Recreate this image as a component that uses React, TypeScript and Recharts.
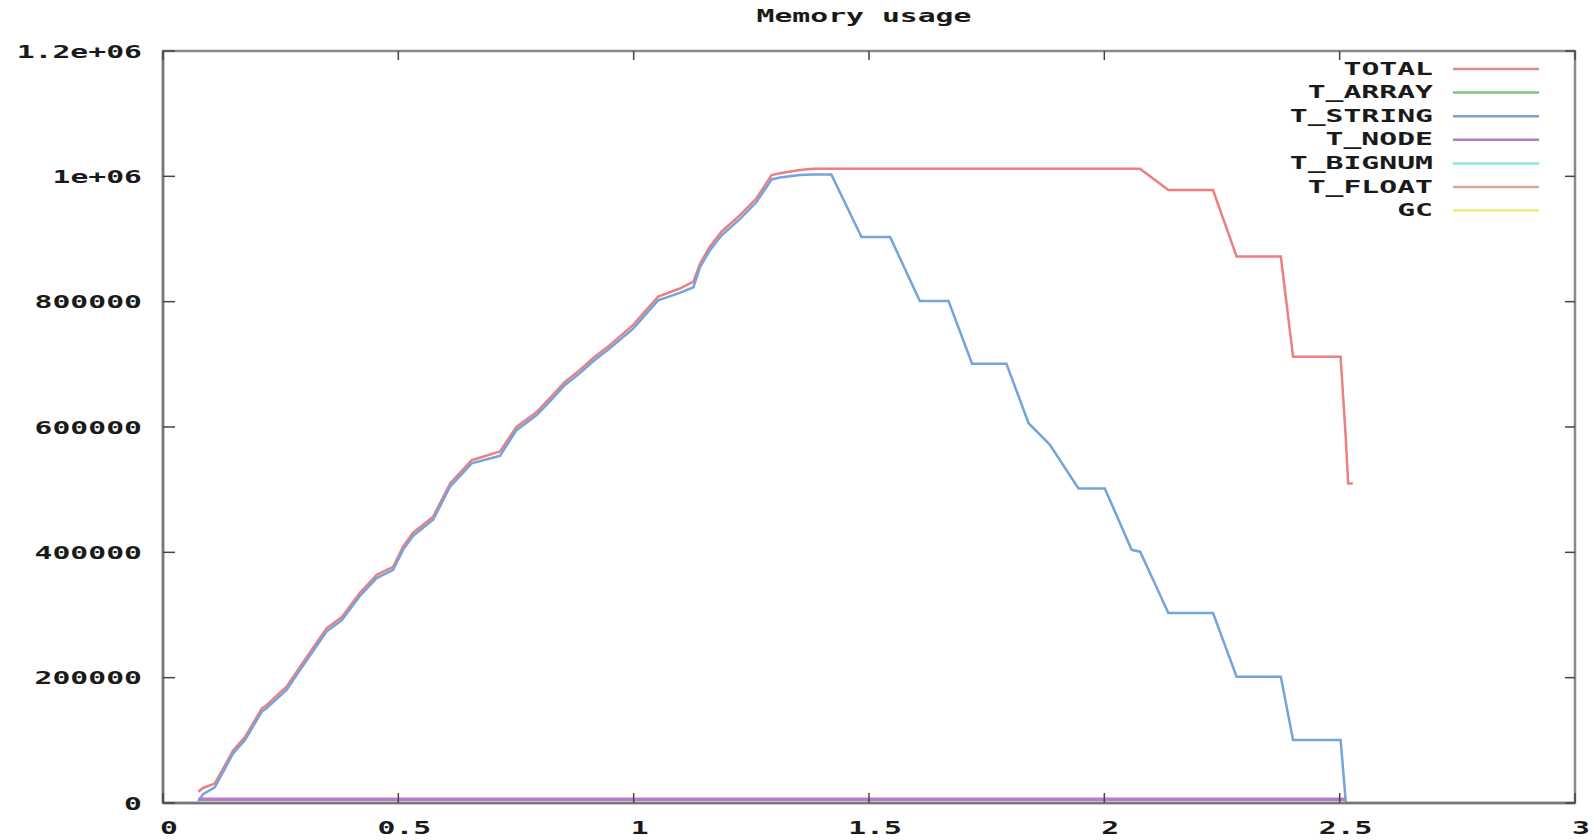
import React from "react";
import { LineChart, Line, XAxis, YAxis, Legend, ReferenceArea } from "recharts";

// ---- data ----
const xValues = [
  0.075, 0.085, 0.11, 0.149, 0.174, 0.21, 0.22, 0.263, 0.291, 0.323, 0.348, 0.38, 0.418, 0.454, 0.489,
  0.51, 0.531, 0.574, 0.61, 0.656, 0.716, 0.751, 0.794, 0.822, 0.854, 0.886, 0.914, 0.95, 0.999, 1.02,
  1.052, 1.098, 1.127, 1.141, 1.162, 1.187, 1.226, 1.261, 1.293, 1.311, 1.353, 1.381, 1.42, 1.484, 1.545,
  1.608, 1.669, 1.719, 1.792, 1.839, 1.884, 1.945, 2.001, 2.058, 2.076, 2.097, 2.136, 2.231, 2.281, 2.375,
  2.401, 2.502, 2.513, 2.518, 2.528,
];
const totalValues = [
  18000, 24000, 31000, 84000, 105000, 151000, 156000, 186000, 217000, 252000, 279000, 297000, 335000, 364000, 377000,
  409000, 431000, 457000, 510000, 547000, 561000, 600000, 624000, 646000, 672000, 691000, 710000, 731000, 763000, 781000,
  808000, 821000, 832000, 861000, 888000, 912000, 938000, 965000, 1002000, 1005000, 1010000, 1012000, 1012000, 1012000, 1012000,
  1012000, 1012000, 1012000, 1012000, 1012000, 1012000, 1012000, 1012000, 1012000, 1012000, 1000000, 978000, 978000, 872000, 872000,
  712000, 712000, 582000, 510000, 510000,
];
const stringValues = [
  3000, 14000, 25000, 79000, 100000, 146000, 151000, 181000, 212000, 247000, 274000, 292000, 330000, 359000, 372000,
  404000, 426000, 452000, 505000, 542000, 554000, 595000, 619000, 641000, 667000, 686000, 705000, 726000, 757000, 775000,
  802000, 814000, 823000, 855000, 882000, 906000, 932000, 959000, 995000, 998000, 1002000, 1003000, 1003000, 903000, 903000,
  801000, 801000, 701000, 701000, 606000, 572000, 502000, 502000, 404000, 401000, 367000, 303000, 303000, 201500, 201500,
  100500, 100500, 2000, null, null,
];
const nodeValues = xValues.map((x) => (x <= 2.513 ? 6000 : null));
const arrayValues = xValues.map((x) => (x <= 2.513 ? 5000 : null));
const bignumValues = xValues.map((x) => (x <= 2.513 ? 5000 : null));
const floatValues = xValues.map((x) => (x <= 2.513 ? 5000 : null));
const gcValues = xValues.map((x) => (x <= 2.513 ? 5000 : null));

const xTicks = [0, 0.5, 1, 1.5, 2, 2.5, 3];
const xTickLabels = ["0", "0.5", "1", "1.5", "2", "2.5", "3"];
const yTicks = [0, 200000, 400000, 600000, 800000, 1000000, 1200000];
const yTickLabels = ["0", "200000", "400000", "600000", "800000", "1e+06", "1.2e+06"];

const seriesNames = ["TOTAL", "T_ARRAY", "T_STRING", "T_NODE", "T_BIGNUM", "T_FLOAT", "GC"];
const legendColors = ["#e08a8a", "#7cc87c", "#7d9fd0", "#b47cc6", "#8ee2ea", "#d0a896", "#eeec80"];
const lineColors = ["#ec7f7f", "#7cc87c", "#74a4dc", "#b67cca", "#8ee2ea", "#d0a896", "#eeec80"];

const data = xValues.map((x, i) => ({
  x,
  TOTAL: totalValues[i],
  T_ARRAY: arrayValues[i],
  T_STRING: stringValues[i],
  T_NODE: nodeValues[i],
  T_BIGNUM: bignumValues[i],
  T_FLOAT: floatValues[i],
  GC: gcValues[i],
}));

// ---- layout ----
const W = 1594;
const H = 840;
const MARGIN = { top: 51, right: 19, bottom: 0, left: 0 };
const PLOT_LEFT = 163;
const PLOT_RIGHT = W - MARGIN.right;
const PLOT_TOP = MARGIN.top;
const X_AXIS_H = 37;
const PLOT_BOTTOM = H - X_AXIS_H;

const FONT = "'DejaVu Sans Mono', 'Liberation Mono', monospace";
const SX = 1.75;
const TICK_COLOR = "#444";

const YTick = (props: any) => {
  const { x, y, payload } = props;
  const idx = yTicks.indexOf(payload.value);
  const label = idx >= 0 ? yTickLabels[idx] : String(payload.value);
  return (
    <g>
      <line x1={PLOT_LEFT} y1={y} x2={PLOT_LEFT + 12} y2={y} stroke={TICK_COLOR} strokeWidth={1.5} />
      <line x1={PLOT_RIGHT} y1={y} x2={PLOT_RIGHT - 10} y2={y} stroke={TICK_COLOR} strokeWidth={1.5} />
      <text
        transform={`translate(${x - 21},${y + 1}) scale(${SX},1)`}
        textAnchor="end"
        dominantBaseline="central"
        fontFamily={FONT}
        fontWeight="bold"
        fontSize={17}
        fill="#1a1a1a"
      >
        {label}
      </text>
    </g>
  );
};

const XTick = (props: any) => {
  const { x, y, payload } = props;
  const idx = xTicks.indexOf(payload.value);
  const label = idx >= 0 ? xTickLabels[idx] : String(payload.value);
  return (
    <g>
      <line x1={x} y1={PLOT_BOTTOM} x2={x} y2={PLOT_BOTTOM - 10} stroke={TICK_COLOR} strokeWidth={1.5} />
      <line x1={x} y1={PLOT_TOP} x2={x} y2={PLOT_TOP + 9} stroke={TICK_COLOR} strokeWidth={1.5} />
      <text
        transform={`translate(${x + 6},${y + 25}) scale(${SX},1)`}
        textAnchor="middle"
        dominantBaseline="central"
        fontFamily={FONT}
        fontWeight="bold"
        fontSize={17}
        fill="#1a1a1a"
      >
        {label}
      </text>
    </g>
  );
};

const LegendBox = () => {
  const textRight = 213; // relative to legend wrapper left (1220)
  const lineX1 = 233;
  const lineX2 = 319;
  const rowY0 = 14;
  const rowStep = 23.6;
  return (
    <svg width={340} height={170} style={{ display: "block", overflow: "visible" }}>
      {seriesNames.map((name, i) => {
        const y = rowY0 + i * rowStep;
        return (
          <g key={name}>
            <text
              transform={`translate(${textRight},${y}) scale(${SX},1)`}
              textAnchor="end"
              dominantBaseline="central"
              fontFamily={FONT}
              fontWeight="bold"
              fontSize={17}
              fill="#1a1a1a"
            >
              {name}
            </text>
            <line x1={lineX1} y1={y} x2={lineX2} y2={y} stroke={legendColors[i]} strokeWidth={2.5} />
          </g>
        );
      })}
    </svg>
  );
};

const drawOrder = ["T_ARRAY", "T_BIGNUM", "T_FLOAT", "GC", "TOTAL", "T_STRING", "T_NODE"];

export default function App() {
  return (
    <div style={{ position: "absolute", left: 0, top: 0, width: W, height: H, background: "#fff" }}>
      <div
        style={{
          position: "absolute",
          left: 864 - 200,
          top: 5,
          width: 400,
          textAlign: "center",
          fontFamily: FONT,
          fontWeight: "bold",
          fontSize: 17,
          lineHeight: "22px",
          color: "#1a1a1a",
          transform: `scale(${SX},1)`,
          transformOrigin: "center",
          zIndex: 2,
        }}
      >
        Memory usage
      </div>
      <LineChart width={W} height={H} data={data} margin={MARGIN}>
        <XAxis
          dataKey="x"
          type="number"
          domain={[0, 3]}
          ticks={xTicks}
          height={X_AXIS_H}
          tickLine={false}
          tickSize={0}
          tickMargin={0}
          axisLine={{ stroke: "#777", strokeWidth: 2.5 }}
          tick={<XTick />}
          interval={0}
          allowDataOverflow
        />
        <YAxis
          type="number"
          domain={[0, 1200000]}
          ticks={yTicks}
          width={163}
          tickLine={false}
          tickSize={0}
          tickMargin={0}
          axisLine={{ stroke: "#777", strokeWidth: 2.5 }}
          tick={<YTick />}
          interval={0}
          allowDataOverflow
        />
        <ReferenceArea
          x1={0}
          x2={3}
          y1={0}
          y2={1200000}
          fill="none"
          stroke="#8a8a8a"
          strokeWidth={2.5}
          ifOverflow="visible"
        />
        {drawOrder.map((name) => {
          const i = seriesNames.indexOf(name);
          return (
            <Line
              key={name}
              type="linear"
              dataKey={name}
              name={name}
              stroke={lineColors[i]}
              strokeWidth={name === "T_NODE" ? 3.5 : 2.5}
              dot={false}
              activeDot={false}
              isAnimationActive={false}
              connectNulls={false}
            />
          );
        })}
        <Legend
          layout="vertical"
          align="center"
          verticalAlign="middle"
          content={() => <LegendBox />}
          wrapperStyle={{ position: "absolute", left: 1220, top: 55, width: 340, height: 170 }}
        />
      </LineChart>
    </div>
  );
}
